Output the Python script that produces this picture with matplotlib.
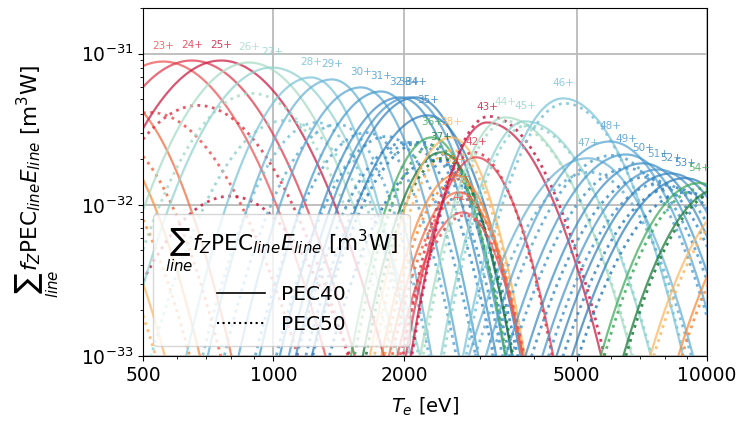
import numpy as np
import matplotlib
matplotlib.use("Agg")
import matplotlib.pyplot as plt
from matplotlib.lines import Line2D
from matplotlib.ticker import NullFormatter

# charge states of W shown in the plot
charge = list(range(18, 60))

# PEC40 peak temperature [eV] and peak emission [m^3 W]
te_pk40 = [253, 289, 322, 367, 420, 556, 648, 757, 878, 992,
           1220, 1365, 1592, 1770, 1958, 2054, 2132, 2270,
           2320, 2435, 2567, 2624, 2680, 2736, 2931, 3108, 3419, 3801,
           4655, 5315, 5974, 6502, 7118, 7710, 8260, 8897,
           9586, 10720, 12240, 13980, 15960, 18230]
val_pk40 = [5.8e-33, 1.07e-32, 1.97e-32, 3.7e-32, 5.5e-32, 8.85e-32, 8.99e-32, 8.99e-32, 8.72e-32, 8.08e-32,
            6.95e-32, 6.74e-32, 5.97e-32, 5.61e-32, 5.13e-32, 5.13e-32, 5.13e-32, 3.9e-32,
            2.79e-32, 2.22e-32, 2.79e-32, 1.57e-32, 1.21e-32, 8.9e-33, 2.06e-32, 3.5e-32, 3.78e-32, 3.56e-32,
            5.05e-32, 2.03e-32, 2.62e-32, 2.15e-32, 1.88e-32, 1.71e-32, 1.61e-32, 1.5e-32,
            1.39e-32, 1.28e-32, 1.16e-32, 9.9e-33, 7.9e-33, 6.3e-33]

# PEC50 peak temperature [eV] and peak emission [m^3 W]
te_pk50 = [253, 289, 322, 367, 420, 519, 670, 794, 892, 1063,
           1259, 1409, 1643, 1828, 2022, 2121, 2201, 2346,
           2346, 2460, 2594, 2650, 2708, 2765, 2900, 3140, 3455, 3840,
           4705, 5370, 6040, 6570, 7190, 7790, 8350, 8990,
           9690, 10840, 12370, 14100, 16100, 18400]
val_pk50 = [3e-33, 6e-33, 1.2e-32, 2.0e-32, 2.8e-32, 4.08e-32, 4.54e-32, 1.14e-32, 5.45e-32, 3.61e-32,
            3.5e-32, 3.4e-32, 3.0e-32, 2.83e-32, 2.59e-32, 2.59e-32, 2.59e-32, 1.97e-32,
            2.47e-32, 2.03e-32, 2.29e-32, 1.45e-32, 1.12e-32, 8.5e-33, 2.22e-32, 3.84e-32, 3.56e-32, 3.35e-32,
            4.68e-32, 1.64e-32, 2.12e-32, 1.74e-32, 1.52e-32, 1.39e-32, 1.30e-32, 1.21e-32,
            1.28e-32, 1.25e-32, 1.07e-32, 9.0e-33, 7.2e-33, 5.8e-33]

# decades in Te over which each curve falls by two decades (low / high side)
width_lo = [0.34] * 5 + [0.38] * 3 + [0.35] * 2 + [0.30] * 8 + [0.22] * 6 + [0.20, 0.20, 0.22, 0.22, 0.25] + [0.34] * 7 + [0.30] * 6
width_hi = [0.30] * 5 + [0.38] * 3 + [0.35] * 2 + [0.24] * 8 + [0.20] * 6 + [0.22, 0.30, 0.33, 0.33, 0.30] + [0.30] * 7 + [0.30] * 6

palette = ['#41ab5d', '#1a7a3a', '#fdb863', '#fb8c3c', '#f46d43', '#f05555',
           '#e23b4e', '#cc1f45', '#a8ddc5', '#92d3cf', '#7cc5d9', '#6bb3d6',
           '#5aa6d3', '#4a9ccf', '#3f8fc8', '#4b98cc', '#3a86c0', '#2f7fbd']

te = np.logspace(2, 4.5, 1500)
te_min, te_max = 500, 10000


def arc(te, te0, v0, wlo, whi):
    d = np.log10(te / te0)
    w = np.where(d < 0, wlo, whi)
    return v0 * 10 ** (-2 * (d / w) ** 2)


fig = plt.figure(figsize=(7.41, 4.26), dpi=100)
ax = fig.add_axes([143 / 741, 1 - 356 / 426, (707 - 143) / 741, (356 - 8) / 426])

for i, q in enumerate(charge):
    c = palette[q % 18]
    ax.plot(te, arc(te, te_pk40[i], val_pk40[i], width_lo[i], width_hi[i]),
            color=c, lw=1.6, alpha=0.75)
    ax.plot(te, arc(te, te_pk50[i], val_pk50[i], width_lo[i], width_hi[i]),
            color=c, lw=2.0, ls=':', alpha=0.85)
    # charge-state tag just above the peak, only when the peak is in range
    if te_min < te_pk40[i] < te_max:
        ax.text(te_pk40[i], val_pk40[i] * 1.26, f'{q}+', color=c, alpha=0.85,
                fontsize=7.5, ha='center', va='center')

ax.set_xscale('log')
ax.set_yscale('log')
ax.set_xlim(te_min, te_max)
ax.set_ylim(1e-33, 2e-31)
ax.set_xticks([500, 1000, 2000, 5000, 10000])
ax.set_xticklabels(['500', '1000', '2000', '5000', '10000'])
ax.xaxis.set_minor_formatter(NullFormatter())
ax.tick_params(labelsize=13.5)
ax.grid(True, which='major', color='#bbbbbb', lw=1.3)
ax.set_xlabel('$T_e$ [eV]', fontsize=14, labelpad=8)
ylab = r'$\sum_{line} f_Z\mathrm{PEC}_{line}E_{line}$ [m$^3$W]'
ax.set_ylabel(ylab, fontsize=15.5)
ax.yaxis.set_label_coords(-0.145, 0.5)

handles = [Line2D([], [], color='k', lw=1.2),
           Line2D([], [], color='k', lw=1.5, ls=':')]
leg = ax.legend(handles, ['PEC40', 'PEC50'], title=ylab, loc='lower left',
                fontsize=14.5, title_fontsize=15.5, handlelength=2.4,
                labelspacing=0.55, borderpad=0.6)
leg.set_zorder(10)

fig.savefig('out.png', dpi=100)
